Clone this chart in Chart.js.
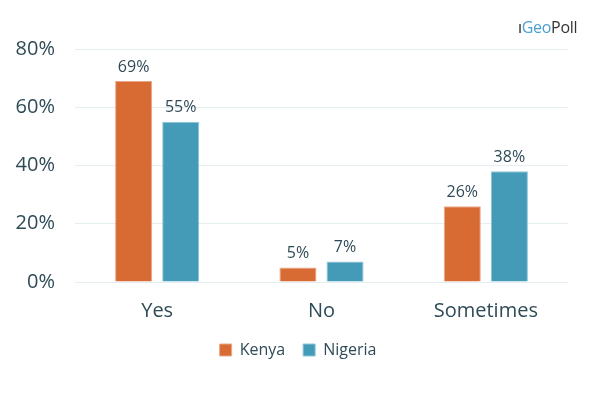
<!DOCTYPE html>
<html>
<head>
<meta charset="utf-8">
<script src="https://cdn.jsdelivr.net/npm/chart.js@4"></script>
<style>
  body { margin: 0; background: #fff; }
  #wrap { position: relative; width: 600px; height: 398px; }
  #logo { position: absolute; left: 518px; top: 16px; font-family: "Open Sans", sans-serif; font-size: 16px; letter-spacing: -0.3px; }
  #logo .i { color: #222; }
  #logo .geo { color: #4a9fd0; }
  #logo .poll { color: #333; }
</style>
</head>
<body>
<div id="wrap">
  <canvas id="chart" width="600" height="398"></canvas>
  <div id="logo"><span class="i">ı</span><span class="geo">Geo</span><span class="poll">Poll</span></div>
</div>
<script>
const categories = ['Yes', 'No', 'Sometimes'];
const kenya = [69, 5, 26];
const nigeria = [55, 7, 38];
const yTicks = [0, 20, 40, 60, 80];

const textColor = '#2f4b57';

// value labels above bars
const barLabels = {
    id: 'barLabels',
    afterDatasetsDraw(chart) {
        const ctx = chart.ctx;
        ctx.save();
        ctx.font = '16px "Open Sans", sans-serif';
        ctx.fillStyle = textColor;
        ctx.textAlign = 'center';
        ctx.textBaseline = 'bottom';
        chart.data.datasets.forEach((ds, i) => {
            chart.getDatasetMeta(i).data.forEach((bar, j) => {
                ctx.fillText(ds.data[j] + '%', bar.x, bar.y - 6);
            });
        });
        ctx.restore();
    }
};

// nudge legend to the right so it sits centred under the page
const legendShift = {
    id: 'legendShift',
    afterLayout(chart) {
        chart.legend.left += 14;
        chart.legend.right += 14;
    }
};

const ctx = document.getElementById('chart').getContext('2d');
const chart = new Chart(ctx, {
    type: 'bar',
    data: {
        labels: categories,
        datasets: [
            { label: 'Kenya', data: kenya, backgroundColor: '#d86a33', borderColor: '#e8a888', borderWidth: 1 },
            { label: 'Nigeria', data: nigeria, backgroundColor: '#449bb8', borderColor: '#8cc4d6', borderWidth: 1 }
        ]
    },
    options: {
        responsive: false,
        animation: false,
        layout: { padding: { top: 49, right: 32, left: 0, bottom: 30 } },
        datasets: {
            bar: { categoryPercentage: 0.573, barPercentage: 0.787 }
        },
        scales: {
            x: {
                grid: { display: false },
                border: { display: false },
                ticks: { color: textColor, font: { family: 'Open Sans', size: 20 }, padding: 9 },
                afterFit(scale) { scale.height = 42; }
            },
            y: {
                min: 0,
                max: 80,
                afterBuildTicks(scale) { scale.ticks = yTicks.map(v => ({ value: v })); },
                grid: { color: '#e4edf0', drawTicks: false },
                border: { display: false },
                ticks: {
                    color: textColor,
                    font: { family: 'Open Sans', size: 20 },
                    padding: 20,
                    callback: v => v + '%'
                },
                afterFit(scale) { scale.width = 75; }
            }
        },
        plugins: {
            tooltip: { enabled: false },
            legend: {
                position: 'bottom',
                labels: {
                    color: textColor,
                    font: { family: 'Open Sans', size: 16 },
                    boxWidth: 12,
                    boxHeight: 12,
                    padding: 18
                }
            }
        }
    },
    plugins: [barLabels, legendShift]
});
</script>
</body>
</html>
